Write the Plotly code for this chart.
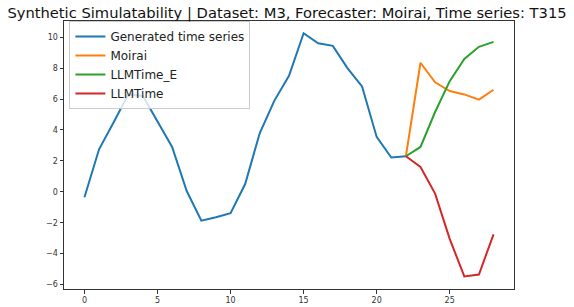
import plotly.graph_objects as go

x_gen = list(range(0, 23))
y_gen = [-0.35, 2.75, 4.5, 6.3, 6.2, 4.5, 2.9, 0.05, -1.87, -1.65, -1.38, 0.5,
         3.8, 5.9, 7.5, 10.26, 9.61, 9.44, 8.0, 6.82, 3.55, 2.22, 2.3]
x_fc = list(range(22, 29))
y_moirai = [2.3, 8.35, 7.08, 6.52, 6.3, 5.96, 6.6]
y_llmtime_e = [2.3, 2.9, 5.16, 7.16, 8.6, 9.38, 9.7]
y_llmtime = [2.3, 1.61, -0.12, -3.05, -5.48, -5.35, -2.75]

x_ticks = [0, 5, 10, 15, 20, 25]
y_ticks = [-6, -4, -2, 0, 2, 4, 6, 8, 10]

fig = go.Figure()
fig.add_trace(go.Scatter(x=x_gen, y=y_gen, mode="lines", name="Generated time series",
                         line=dict(color="#1f77b4", width=2)))
fig.add_trace(go.Scatter(x=x_fc, y=y_moirai, mode="lines", name="Moirai",
                         line=dict(color="#ff7f0e", width=2)))
fig.add_trace(go.Scatter(x=x_fc, y=y_llmtime_e, mode="lines", name="LLMTime_E",
                         line=dict(color="#2ca02c", width=2)))
fig.add_trace(go.Scatter(x=x_fc, y=y_llmtime, mode="lines", name="LLMTime",
                         line=dict(color="#d62728", width=2)))

axis_common = dict(showgrid=False, zeroline=False, showline=True, mirror=True,
                   linecolor="#333333", linewidth=1, ticks="outside", ticklen=3.5,
                   tickwidth=1, tickcolor="#333333", automargin=False,
                   tickfont=dict(family="DejaVu Sans", size=8, color="#333333"))

fig.update_layout(
    width=574, height=307,
    margin=dict(l=64, r=60, t=21, b=18),
    paper_bgcolor="white", plot_bgcolor="white",
    font=dict(family="DejaVu Sans", color="#222222"),
    title=dict(text="Synthetic Simulatability | Dataset: M3, Forecaster: Moirai, Time series: T315",
               font=dict(family="DejaVu Sans", size=14.7, color="#111111"),
               x=0.5, xref="container", xanchor="center",
               y=1 - 13/307, yref="container", yanchor="middle"),
    xaxis=dict(range=[-1.4, 29.4], tickvals=x_ticks, **axis_common),
    yaxis=dict(range=[-6.29, 11.05], tickvals=y_ticks, **axis_common),
    legend=dict(x=0.012, y=1.0, xanchor="left", yanchor="top",
                bgcolor="rgba(255,255,255,0.8)", bordercolor="#cccccc", borderwidth=1,
                font=dict(family="DejaVu Sans", size=12, color="#222222"),
                tracegroupgap=0, itemwidth=30),
    showlegend=True,
)

fig.write_html("out.html", config={"displayModeBar": False},
               post_script="document.body.style.margin='0';")
